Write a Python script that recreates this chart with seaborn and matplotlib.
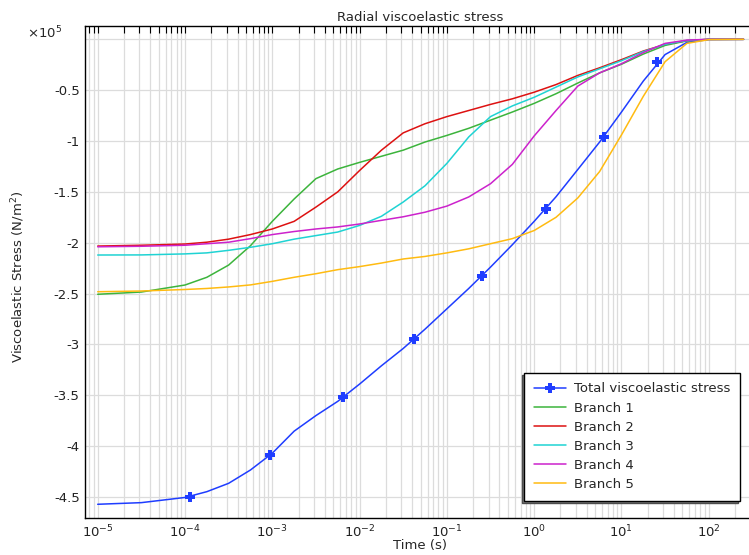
import matplotlib
matplotlib.use('Agg')
import matplotlib.pyplot as plt
from matplotlib.lines import Line2D
from matplotlib.ticker import (FuncFormatter, FixedLocator, MultipleLocator,
                               NullFormatter, LogFormatterSciNotation)
import seaborn as sns
import pandas as pd

# time points (s)
time_s = [1e-5, 3.16e-5, 1e-4, 1.78e-4, 3.16e-4, 5.62e-4, 1e-3, 1.78e-3,
          3.16e-3, 5.62e-3, 1e-2, 1.78e-2, 3.16e-2, 5.62e-2, 0.1, 0.178,
          0.316, 0.562, 1.0, 1.78, 3.16, 5.62, 10.0, 17.8, 31.6, 56.2,
          100.0, 250.0]

# stresses in units of 1e5 N/m^2
total = [-4.572, -4.556, -4.505, -4.448, -4.366, -4.235, -4.07, -3.853,
         -3.70, -3.56, -3.39, -3.21, -3.04, -2.85, -2.65, -2.45, -2.24,
         -2.02, -1.79, -1.548, -1.28, -1.01, -0.715, -0.41, -0.15, -0.03,
         -0.003, 0.0]
branch1 = [-2.507, -2.485, -2.416, -2.34, -2.22, -2.03, -1.79, -1.57,
           -1.37, -1.275, -1.21, -1.15, -1.09, -1.01, -0.945, -0.875,
           -0.795, -0.715, -0.63, -0.535, -0.43, -0.33, -0.245, -0.145,
           -0.06, -0.015, 0.0, 0.0]
branch2 = [-2.033, -2.025, -2.013, -1.995, -1.965, -1.92, -1.865, -1.79,
           -1.65, -1.50, -1.29, -1.09, -0.92, -0.83, -0.76, -0.70, -0.64,
           -0.585, -0.52, -0.445, -0.355, -0.28, -0.20, -0.115, -0.05,
           -0.012, 0.0, 0.0]
branch3 = [-2.121, -2.12, -2.11, -2.10, -2.075, -2.045, -2.01, -1.965,
           -1.93, -1.895, -1.83, -1.74, -1.60, -1.44, -1.22, -0.96, -0.76,
           -0.655, -0.57, -0.47, -0.37, -0.29, -0.21, -0.12, -0.05, -0.012,
           0.0, 0.0]
branch4 = [-2.04, -2.035, -2.025, -2.01, -1.995, -1.96, -1.92, -1.89,
           -1.865, -1.845, -1.816, -1.78, -1.745, -1.70, -1.64, -1.55,
           -1.42, -1.23, -0.95, -0.70, -0.46, -0.33, -0.24, -0.13, -0.04,
           -0.008, 0.0, 0.0]
branch5 = [-2.482, -2.475, -2.46, -2.45, -2.435, -2.415, -2.38, -2.34,
           -2.305, -2.265, -2.235, -2.20, -2.16, -2.135, -2.10, -2.06,
           -2.01, -1.96, -1.88, -1.75, -1.56, -1.30, -0.94, -0.56, -0.22,
           -0.04, -0.003, 0.0]

# plus markers placed along the total curve
marker_t = [1.13e-4, 9.5e-4, 6.5e-3, 4.2e-2, 0.25, 1.36, 6.25, 25.2]
marker_v = [-4.497, -4.088, -3.52, -2.947, -2.327, -1.672, -0.964, -0.223]

labels = ['Total viscoelastic stress', 'Branch 1', 'Branch 2', 'Branch 3',
          'Branch 4', 'Branch 5']
colors = ['#1f3dff', '#3cb43c', '#dd1111', '#1fd3d3', '#cc22cc', '#ffbb11']
decades = [1e-5, 1e-4, 1e-3, 1e-2, 1e-1, 1e0, 1e1, 1e2]

sns.set_theme(style='white', rc={
    'xtick.direction': 'in', 'ytick.direction': 'in',
    'xtick.top': True, 'ytick.right': False,
    'axes.unicode_minus': False,
})
plt.rcParams['font.family'] = ['DejaVu Sans']
plt.rcParams['mathtext.fontset'] = 'dejavusans'

series = [total, branch1, branch2, branch3, branch4, branch5]
df = pd.concat([
    pd.DataFrame({'Time (s)': time_s, 'stress': vals, 'series': lab})
    for lab, vals in zip(labels, series)
])

fig = plt.figure(figsize=(7.49, 5.55), dpi=100)
ax = fig.add_axes([84.5 / 749, 1 - 517.7 / 555, 671 / 749, 491.4 / 555])

sns.lineplot(data=df, x='Time (s)', y='stress', hue='series',
             hue_order=labels, palette=colors, linewidth=1.1,
             legend=False, ax=ax, zorder=3)
ax.plot(marker_t, marker_v, linestyle='none', marker='P', markersize=7.5,
        color=colors[0], markeredgewidth=0, zorder=4)

ax.set_xscale('log')
ax.set_xlim(7.06e-6, 343)
ax.set_ylim(-4.704, 0.128)
minors = [d * k for d in [1e-6] + decades for k in range(2, 10)]
minors = [m for m in minors if 7.06e-6 < m < 343]
ax.xaxis.set_major_locator(FixedLocator(decades))
ax.xaxis.set_major_formatter(LogFormatterSciNotation())
ax.xaxis.set_minor_locator(FixedLocator(minors))
ax.xaxis.set_minor_formatter(NullFormatter())
ax.yaxis.set_major_locator(MultipleLocator(0.5))
ax.yaxis.set_major_formatter(FuncFormatter(
    lambda v, p: '' if abs(v) < 1e-9 else f'{v:g}'))

ax.grid(True, which='major', color='#dcdcdc', linewidth=0.9)
ax.grid(True, which='minor', axis='x', color='#dcdcdc', linewidth=0.9)
ax.set_axisbelow(True)

for side in ['left', 'bottom', 'top']:
    ax.spines[side].set_color('black')
    ax.spines[side].set_linewidth(1.0)
ax.spines['right'].set_visible(False)
ax.tick_params(which='both', length=5, width=0.8, color='black',
               labelsize=9.5, labelcolor='#222222')
ax.tick_params(axis='x', which='both', top=True, pad=4)

ax.set_xlabel('Time (s)', fontsize=9.5)
ax.set_ylabel('Viscoelastic Stress (N/m$^2$)', fontsize=9.5)
ax.xaxis.set_label_coords(0.5, -0.043)
ax.yaxis.set_label_coords(-0.085, 0.49)
ax.set_title('Radial viscoelastic stress', fontsize=9.5, pad=4)
fig.text(45 / 749, 1 - 33 / 555, '×10$^5$', fontsize=9.5, ha='center',
         va='center')

handles = [Line2D([], [], color=colors[0], lw=1.1, marker='P', markersize=7.5,
                  markeredgewidth=0)]
handles += [Line2D([], [], color=c, lw=1.1) for c in colors[1:]]
leg = ax.legend(handles, labels, loc='lower right',
                bbox_to_anchor=(740 / 749, 1 - 500.7 / 555),
                bbox_transform=fig.transFigure, borderaxespad=0,
                fontsize=9.5, frameon=True, fancybox=False, framealpha=1,
                edgecolor='black', labelspacing=0.46, handlelength=2.4,
                handletextpad=0.6, borderpad=0.75,
                shadow={'ox': -1.7, 'oy': -1.7, 'fc': '#7a7a7a', 'alpha': 1})
leg.get_frame().set_linewidth(1.0)

fig.savefig('out.png', dpi=100)
